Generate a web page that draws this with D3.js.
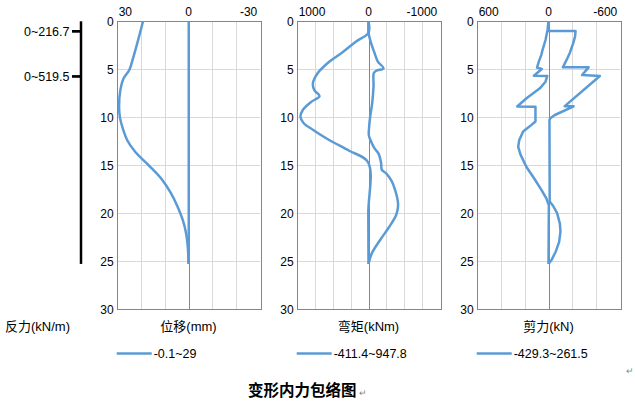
<!DOCTYPE html>
<html><head><meta charset="utf-8">
<script src="https://cdn.jsdelivr.net/npm/d3@7"></script>
<style>
body{margin:0;background:#fff;}
svg{display:block;font-family:"Liberation Sans","Noto Sans CJK SC",sans-serif;}
</style></head>
<body><svg id="c" width="635" height="411"></svg>
<script>
// ---- data (depth m, value) ----
const depthTicks = [0,5,10,15,20,25,30];
const panelTitles = ["位移(mm)","弯矩(kNm)","剪力(kN)"];
const legendTexts = ["-0.1~29","-411.4~947.8","-429.3~261.5"];
const topLabels = [["30","0","-30"],["1000","0","-1000"],["600","0","-600"]];
const axisMax = [30,1000,600];
const gridStep = [10,250,200];
const reactionDepths = [1.05,5.75];
const reactionLabels = ["0~216.7","0~519.5"];
const wallLength = 25.3;

const dispMax = [[0,19.0],[1.25,20.3],[3.0,22.2],[4.4,23.8],[5.1,24.8],[6.0,27.2],[7.2,28.5],[8.9,29.0],[10.1,28.6],[11.3,27.3],[12.4,25.6],[13.6,22.3],[15,16.7],[16.5,11.1],[17.9,7.4],[19.3,4.6],[20.7,2.4],[22.1,1.0],[23.5,0.3],[25.3,0]];
const dispMin = [[0,-0.1],[12,-0.1],[25.3,-0.1]];

const momentMax = [[0,0],[1.19,0],[2.1,172],[3.2,357],[4.2,543],[5.4,706],[6.5,775],[7.2,752],[7.8,682],[8.4,798],[9.25,915],[9.95,947.8],[10.6,905],[11.3,775],[12.4,543],[13.5,270],[14.7,5],[20,3],[25.3,0]];
const momentMin = [[0,0],[1.19,0],[2.3,-37],[3.3,-84],[4.2,-130],[4.9,-209],[5.15,-107],[5.4,-74],[6.8,-70],[8.55,-51],[9.95,-23],[11.0,-9],[11.9,-5],[12.55,-37],[13.25,-84],[13.8,-140],[14.8,-176],[15.5,-186],[15.85,-246],[16.7,-325],[17.6,-371],[18.6,-405],[19.3,-411.4],[20.2,-385],[21.4,-292],[22.8,-162],[24.2,-46],[25.3,0]];

const shearMax = [[0,0],[0.9,8],[1.95,25],[3.0,50],[3.5,60],[4.2,81],[4.83,96],[4.97,56],[5.68,122],[5.7,10],[6.3,25],[6.99,72],[8.03,184],[8.88,261.5],[8.9,109],[10.45,109],[10.8,142],[11.5,212],[12.4,245],[13.1,253],[13.9,234],[15.2,184],[16.5,114],[17.6,58],[18.5,17],[19.2,-3],[25.3,0]];
const shearMin = [[0,0],[1.0,0],[1.0,-226],[1.6,-222],[2.3,-206],[3.3,-178],[4.0,-152],[4.8,-120],[4.8,-335],[5.6,-281],[5.7,-429.3],[8.85,-136],[8.86,-210],[9.77,-53],[10.1,-15],[10.3,-8],[18.8,-10],[19.26,-39],[20.0,-72],[21.1,-95],[21.9,-100],[23.0,-89],[24.0,-61],[24.9,-25],[25.3,0]];

const series = [[dispMax,dispMin],[momentMax,momentMin],[shearMax,shearMin]];
const curves = [d3.curveCatmullRom.alpha(0.5), d3.curveCatmullRom.alpha(0.5), d3.curveLinear];

// ---- layout ----
const svg = d3.select("#c");
const plotTop = 21.3, plotBottom = 309;
const panelLeft = [116.7, 296.7, 476.7];
const panelW = 143.6;
const y = d3.scaleLinear().domain([0,30]).range([plotTop,plotBottom]);
const blue = "#5b9bd5";

panelLeft.forEach((L,i)=>{
  const R = L+panelW;
  const x = d3.scaleLinear().domain([axisMax[i],-axisMax[i]]).range([L,R]);
  const g = svg.append("g");
  const vt = d3.range(-axisMax[i]+gridStep[i], axisMax[i], gridStep[i]).filter(v=>Math.abs(v)>1e-9);
  g.selectAll(".vg").data(vt).enter().append("line")
    .attr("x1",d=>Math.round(x(d))+0.5).attr("x2",d=>Math.round(x(d))+0.5)
    .attr("y1",plotTop).attr("y2",plotBottom).attr("stroke","#d9d9d9").attr("stroke-width",1);
  g.selectAll(".hg").data(depthTicks.slice(1,-1)).enter().append("line")
    .attr("x1",L).attr("x2",R)
    .attr("y1",d=>Math.round(y(d))+0.5).attr("y2",d=>Math.round(y(d))+0.5)
    .attr("stroke","#d9d9d9").attr("stroke-width",1);
  g.append("rect").attr("x",Math.round(L)+0.5).attr("y",Math.round(plotTop)+0.5)
    .attr("width",Math.round(panelW)).attr("height",Math.round(plotBottom-plotTop))
    .attr("fill","none").attr("stroke","#868686").attr("stroke-width",1);
  g.append("line").attr("x1",Math.round(x(0))+0.5).attr("x2",Math.round(x(0))+0.5)
    .attr("y1",plotTop).attr("y2",plotBottom).attr("stroke","#868686").attr("stroke-width",1);
  g.selectAll(".yl").data(depthTicks).enter().append("text")
    .attr("x",L-3).attr("y",d=>y(d)+4.5).attr("text-anchor","end")
    .attr("font-size",12).attr("fill","#000").text(d=>d);
  const tl = topLabels[i];
  g.append("text").attr("x",L+2).attr("y",16).attr("text-anchor","start").attr("font-size",12).text(tl[0]);
  g.append("text").attr("x",x(0)).attr("y",16).attr("text-anchor","middle").attr("font-size",12).text(tl[1]);
  g.append("text").attr("x",R-3).attr("y",16).attr("text-anchor","end").attr("font-size",12).text(tl[2]);
  const line = d3.line().x(d=>x(d[1])).y(d=>y(d[0])).curve(curves[i]);
  series[i].forEach(s=>{
    g.append("path").attr("d",line(s)).attr("fill","none")
      .attr("stroke",blue).attr("stroke-width",2.5).attr("stroke-linejoin","round");
  });
  g.append("text").attr("x",x(0)).attr("y",331).attr("text-anchor","middle")
    .attr("font-size",13).text(panelTitles[i]);
  g.append("line").attr("x1",L).attr("x2",L+35).attr("y1",353.5).attr("y2",353.5)
    .attr("stroke",blue).attr("stroke-width",2.5);
  g.append("text").attr("x",L+37).attr("y",358).attr("font-size",12.5).text(legendTexts[i]);
});

svg.append("line").attr("x1",81).attr("x2",81).attr("y1",y(0)).attr("y2",y(wallLength))
  .attr("stroke","#000").attr("stroke-width",2.5);
reactionDepths.forEach((d,k)=>{
  svg.append("line").attr("x1",72).attr("x2",81).attr("y1",y(d)).attr("y2",y(d))
    .attr("stroke","#000").attr("stroke-width",2.7);
  svg.append("text").attr("x",69.5).attr("y",y(d)+4.5).attr("text-anchor","end")
    .attr("font-size",12.5).text(reactionLabels[k]);
});
svg.append("text").attr("x",5).attr("y",331).attr("font-size",13).text("反力(kN/m)");

svg.append("text").attr("x",248).attr("y",396).attr("font-size",15.5).attr("font-weight","bold").text("变形内力包络图");
svg.append("text").attr("x",359).attr("y",396).attr("font-size",9).attr("fill","#888").text("↵");
svg.append("text").attr("x",626).attr("y",374).attr("font-size",9).attr("fill","#888").text("↵");
</script>
</body></html>
